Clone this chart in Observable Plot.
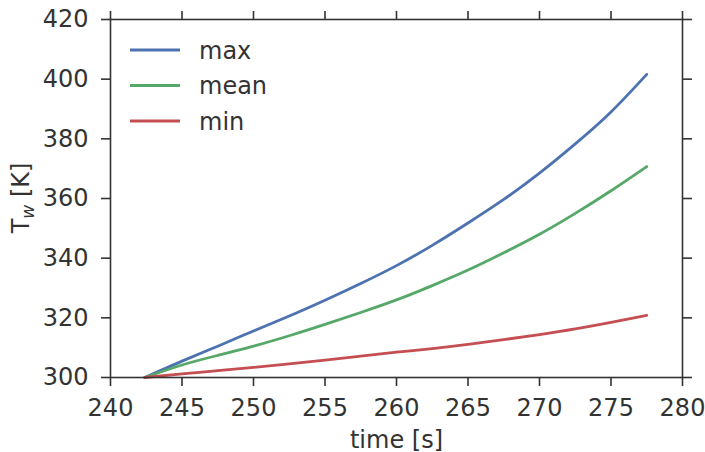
<!DOCTYPE html>
<html><head><meta charset="utf-8">
<script src="https://cdn.jsdelivr.net/npm/d3@7"></script>
<script src="https://cdn.jsdelivr.net/npm/@observablehq/plot@0.6"></script>
<style>body{margin:0;background:#fff}</style>
</head><body><div id="chart"></div>
<script>
const time  = [242.4, 245, 247.5, 250, 252.5, 255, 257.5, 260, 262.5, 265, 267.5, 270, 272.5, 275, 277.5];
const tMax  = [300, 305.5, 310.5, 315.6, 320.6, 325.9, 331.5, 337.5, 344.3, 351.8, 359.7, 368.5, 378.3, 389, 401.6];
const tMean = [300, 304.2, 307.4, 310.5, 314.0, 317.8, 321.8, 326.0, 330.8, 336.0, 341.8, 348.0, 355.0, 362.6, 370.7];
const tMin  = [300, 301.2, 302.3, 303.4, 304.6, 305.8, 307.2, 308.5, 309.7, 311.1, 312.7, 314.4, 316.3, 318.5, 320.8];
const seriesNames  = ["max", "mean", "min"];
const seriesColors = ["#4C72B0", "#55A868", "#C44E52"];
const xTicks = [240, 245, 250, 255, 260, 265, 270, 275, 280];
const yTicks = [300, 320, 340, 360, 380, 400, 420];

const seriesValues = [tMax, tMean, tMin];
const rows = [];
seriesNames.forEach((s, k) => time.forEach((t, i) => rows.push({t, v: seriesValues[k][i], s})));

const ink = "#333";
const fs = 24;
const plot = Plot.plot({
  width: 705, height: 452,
  marginLeft: 110, marginRight: 23, marginTop: 19, marginBottom: 75,
  style: {fontFamily: "DejaVu Sans", fontSize: fs + "px", color: ink, background: "#fff"},
  x: {domain: [240, 280]},
  y: {domain: [300, 420]},
  color: {domain: seriesNames, range: seriesColors},
  marks: [
    Plot.line(rows, {x: "t", y: "v", stroke: "s", strokeWidth: 2.8, curve: "natural"}),
    Plot.frame({stroke: ink, strokeWidth: 1.6}),
    Plot.axisX({ticks: xTicks, tickSize: 9, tickPadding: 12, strokeWidth: 1.6, fontSize: fs, label: "time [s]", labelAnchor: "center", labelArrow: "none", labelOffset: 70}),
    Plot.axisX({anchor: "top", ticks: xTicks, tickSize: 9, strokeWidth: 1.6, tickFormat: () => "", label: null}),
    Plot.axisY({ticks: yTicks, tickSize: 9, tickPadding: 13, strokeWidth: 1.6, fontSize: fs, label: null}),
    Plot.axisY({anchor: "right", ticks: yTicks, tickSize: 9, strokeWidth: 1.6, tickFormat: () => "", label: null})
  ]
});

const svg = d3.select(plot);
// y label with subscript
const yl = svg.append("text")
  .attr("transform", "translate(21,198) rotate(-90)")
  .attr("text-anchor", "middle")
  .attr("dy", "0.35em")
  .attr("fill", ink)
  .style("font-family", "DejaVu Sans").style("font-size", fs + "px");
yl.append("tspan").text("T");
yl.append("tspan").attr("font-style", "italic").attr("font-size", "17px").attr("dy", "5").text("w");
yl.append("tspan").attr("dy", "-5").text(" [K]");

// legend
const lg = svg.append("g").attr("text-anchor", "start")
  .style("font-family", "DejaVu Sans").style("font-size", fs + "px");
seriesNames.forEach((n, i) => {
  const y = 50 + i * 35.5;
  lg.append("line").attr("x1", 130).attr("x2", 180).attr("y1", y).attr("y2", y)
    .attr("stroke", seriesColors[i]).attr("stroke-width", 2.8);
  lg.append("text").attr("x", 199).attr("y", y).attr("dy", 8.5).attr("fill", ink).text(n);
});

document.getElementById("chart").appendChild(plot);
</script>
</body></html>
